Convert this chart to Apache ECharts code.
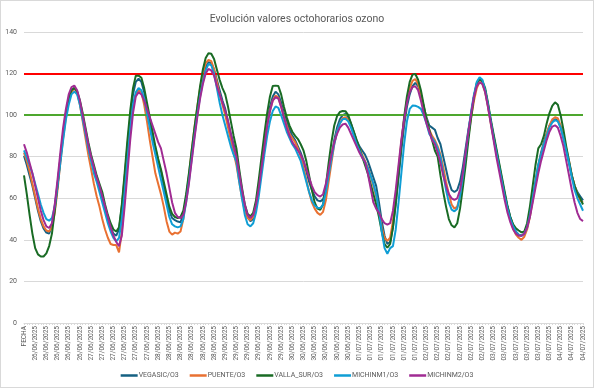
<!DOCTYPE html>
<html>
<head>
<meta charset="utf-8">
<script src="https://cdn.jsdelivr.net/npm/echarts@6/dist/echarts.min.js"></script>
<style>
html,body{margin:0;padding:0;background:#fff;}
#c{width:594px;height:388px;box-sizing:border-box;border:1px solid #d9d9d9;}
</style>
</head>
<body>
<div id="c"></div>
<script>
const title = 'Evolución valores octohorarios ozono';
const firstCategory = 'FECHA';
const dayLabels = ['26/06/2025','27/06/2025','28/06/2025','29/06/2025','30/06/2025','01/07/2025','02/07/2025','03/07/2025','04/07/2025'];
const seriesNames = ['VEGASIC/O3','PUENTE/O3','VALLA_SUR/O3','MICHINM1/O3','MICHINM2/O3'];
const limitRed = 120;
const limitGreen = 100;

const vegasic = [80.5,76,71,66,60,54,49,45.5,43.5,43,47,56,67,79,91,101,108,112,113,111,106,99,92,85,79,74,69,65,60,55,50,46,43,42,45,56,70,85,99,110,116,117.5,116,111,104,97,90,84,78,73,66,60,54,50.5,49.5,48.8,48.5,52,60,70,81,92,102,111,118,123,125.5,125,122,117,112,107,103,97,91,86,81,72,63,56,51,49,50,55,64,75,86,96,104,109,111.3,110,106,101,97,93,90,88,85,82,78,73,68,64,61,59,58.5,59.5,64,72,80,88,94,98,100,100.6,99,96,92,88,85,83,81,78,74,70,66,58,49,42,38,39,46,57,70,83,95,104,110,114,115.5,114,110,104,99,95,94,93,89,86,80,74,68,64,63,64,68,75,84,93,101,109,115,117.4,116,112,105,97,90,83,76,69,62,56,51,47,44,42.5,42,43,46,52,60,68,76,82,87,91,95,97,98,97.5,94,89,83,77,71,66,63,61,59];
const puente = [82,78,73,67,61,55,50,46.5,44.5,44,46,53,64,77,89,99,107,111,113,111,105,97,89,81,74,67,61,56,50,45,41,38,37.5,37.5,34,44,60,76,92,104,110,112,111,105,97,88,80,72,67,62,56,49,44,42.5,43.5,43,44,50,60,71,83,94,104,113,120,125,126.6,126,122,116,110,105,100,94,88,82,76,68,60,54,50.5,49.5,51,56,64,74,85,95,102,107,109.4,108.5,104,99,95,91,89,87,84,80,75,69,63,58,55,53,52,53.5,59,68,77,86,92,96,98.5,99,98,95,91,87,84,81,78,75,71,66,61,54,46,41,39.5,41,49,61,74,87,98,107,113,116.5,117.4,115,110,104,98,93,90,88,85,81,75,68,62,57,55,56,61,70,80,90,99,107,113,116,115,111,104,96,89,82,75,68,61,55,50,45.5,42.5,41,40,41.5,45,51,59,67,75,81,86,91,95,98,99,98.5,95,90,84,78,71,66,62,59,58];
const vallaSur = [71,62,52,43,36,33,32,32,33.5,37,43,54,66,79,91,101,108,112,113,111.5,107,101,94,87,81,76,71,67,63,57,52,48,45,44,46,57,72,88,102,113,119,119,118,113,106,99,92,85,79,74,68,62,56,52.5,51,50.5,51,54,62,72,83,94,104,114,122,127.5,129.8,129.5,127,122,117,113,110,104,97,90,84,74,65,57,52.5,51.3,53,59,69,80,91,101,109,114,114.2,114,110,104,99,95,92,90,88.5,86,83,78,71,64,58,55,54.5,57,66,77,87,95,99.5,101.5,102,101.9,100,96,92,88,84,80,76,72,67,62,57,51,44,38,36.2,38,46,58,72,86,99,109,116,119.5,119.8,117,112,105,98,93,88,83,80,71,63,56,50,47,46,48,55,65,76,88,99,109,115.5,117.4,116.5,113,106,98,91,84,77,70,63,56,51,47.5,45.5,44.5,43.6,44,48,56,66,76,84,86,90,96,101,104.5,106.2,105,100,93,85,78,71,66,62,60,57];
const michinm1 = [83,79.5,76,72,67,62,57,53,50,49.2,50.5,56,66,77,88,98,105,110,111.3,110,105,98,91,84,78,72,68,63,58,53,48,44,41,39.3,41,50,63,78,93,105,111,113,112,108,101,94,87,81,75,69,63,57,51,47.5,46.5,46,46.5,50,58,68,79,90,100,109,116,121.5,124.6,124,120,113,106,100,95,90,85,81,77.6,68,60,52,47.5,46.5,48,53,61,71,81,90,97,102,104.2,103.5,100,96,92,89,86,84,81,78,73,68,63,59,56.5,55.5,55.3,57,63,71,79,86,92,96,98,98.3,97,94,90,86,83,80,77.5,74.5,71,67,62,54,44,36,33.3,36,37,45,58,72,86,97,103,104.6,104.5,104,103,100,96,91,89,87,84,80,72,64,58,54.5,53.7,55,61,70,81,92,102,110,116,118.2,117,112,105,97,89,82,75,68,61,55,50,46.5,44,42.5,42,43,46,52,60,68,76,81,86,90,94,96.5,97.6,97,94,89,83,77,70,64,60,57,54];
const michinm2 = [86,82,77,72,66,60,54,49.5,46.5,45.7,48,57,69,82,94,103,110,113.5,114.2,112,107,100,93,86,80,75,70,66,61,56,51,46,42,39,37,42,56,72,88,101,109,111,110,107,103,99,95,91,87,84,78,72,65,58,53,51,50.5,52,58,67,78,89,99,108,115,120,122.2,121.5,119,114,110,106,102,97,91,85,80,72,64,57,52,50.5,52,57,65,75,85,95,102,107,108.6,108,104,99,94,90,87,85,83,81,78,74,70,66,63,61.5,60.8,62,67,74,81,87,91,94,95.5,95.9,94,91,88,85,82,79.5,77.6,72,65,58,55,53,50,48,47.3,48,54,64,76,88,98,106,111,113.5,113.9,112,107,101,96,92,88,86,82,77,71,66,62,60,59.2,60,64,72,82,92,101,109,114,115.8,115,111,104,96,88,80,73,66,59,53,48.5,45,43,42,42,43,46,51,58,65,72,78,83,88,92,94.5,95.1,94,90,85,78,71,64,58,53,50,49];

const seriesData = [vegasic, puente, vallaSur, michinm1, michinm2];
const colors = ['#156082','#E97132','#196B24','#0F9ED5','#A02B93'];

const n = vegasic.length;
const categories = [];
for (let i = 0; i < n; i++) {
  categories.push(i === 0 ? firstCategory : dayLabels[Math.floor(i / 24)]);
}

const fontFam = 'Roboto, "Noto Sans", sans-serif';
const chart = echarts.init(document.getElementById('c'), null, {renderer: 'canvas'});
const series = seriesNames.map((name, k) => ({
  name: name,
  type: 'line',
  data: seriesData[k],
  symbol: 'none',
  showSymbol: false,
  smooth: false,
  lineStyle: {width: 2, color: colors[k]},
  itemStyle: {color: colors[k]},
  z: 3 + k,
  animation: false
}));
series.push({
  name: 'limits',
  type: 'line',
  data: [],
  z: 2,
  markLine: {
    silent: true,
    symbol: ['none', 'none'],
    label: {show: false},
    animation: false,
    data: [
      {yAxis: limitRed, lineStyle: {color: '#FF0000', width: 2, type: 'solid'}},
      {yAxis: limitGreen, lineStyle: {color: '#4EA72E', width: 2, type: 'solid'}}
    ]
  }
});

chart.setOption({
  animation: false,
  backgroundColor: '#ffffff',
  title: {
    text: title,
    left: 'center',
    top: 8,
    textStyle: {fontFamily: fontFam, fontSize: 10.5, fontWeight: 'normal', color: '#595959'}
  },
  legend: {
    data: seriesNames,
    bottom: 3,
    left: 'center',
    icon: 'rect',
    itemWidth: 17,
    itemHeight: 2.5,
    itemGap: 11,
    textStyle: {fontFamily: fontFam, fontSize: 7, color: '#595959', padding: [0, 0, 0, -4]}
  },
  grid: {left: 23, right: 10, top: 31, bottom: 64, containLabel: false},
  xAxis: {
    type: 'category',
    data: categories,
    boundaryGap: false,
    axisLine: {lineStyle: {color: '#d9d9d9', width: 1}},
    axisTick: {show: true, interval: 0, length: 2, lineStyle: {color: '#d9d9d9'}},
    axisLabel: {interval: 3, rotate: 90, margin: 3, fontFamily: fontFam, fontSize: 6.5, color: '#595959'},
    splitLine: {show: false}
  },
  yAxis: {
    type: 'value',
    min: 0,
    max: 140,
    interval: 20,
    axisLine: {show: false},
    axisTick: {show: false},
    axisLabel: {margin: 7, fontFamily: fontFam, fontSize: 7, color: '#595959'},
    splitLine: {lineStyle: {color: '#d9d9d9', width: 1}}
  },
  series: series
});
</script>
</body>
</html>
